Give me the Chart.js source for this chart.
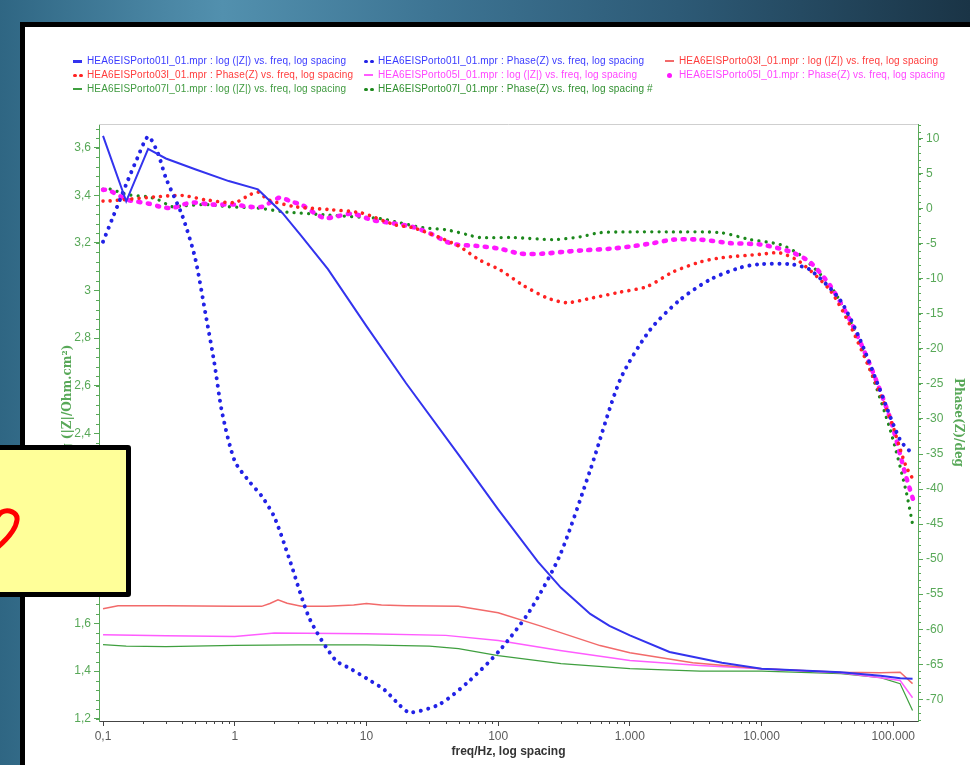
<!DOCTYPE html>
<html><head><meta charset="utf-8">
<script src="https://cdn.jsdelivr.net/npm/chart.js@4.4.1/dist/chart.umd.min.js"></script>
<style>
html,body{margin:0;padding:0;width:970px;height:765px;overflow:hidden;}
body{position:relative;background:linear-gradient(to right,#2f6683 0%,#4a86a4 17%,#5290ae 23%,#3d7493 45%,#2d5a76 70%,#1a3446 100%);}
#panel{position:absolute;left:20px;top:22px;width:960px;height:760px;background:#fff;border-left:5px solid #000;border-top:5px solid #000;}
#c{position:absolute;left:25px;top:27px;}
.lg{position:absolute;font:10px 'Liberation Sans',Arial,sans-serif;letter-spacing:0.15px;white-space:nowrap;height:14px;line-height:14px;}
.mk{display:inline-block;position:relative;width:10px;height:14px;vertical-align:top;margin-right:4px;}
.mk i{position:absolute;display:block;}
#note{position:absolute;left:-10px;top:445px;width:141px;height:152px;box-sizing:border-box;border:5px solid #000;border-radius:3px;background:#ffff99;}
#glyph{position:absolute;left:0;top:500px;}
</style></head>
<body>
<div id="panel"></div>
<canvas id="c" width="945" height="738"></canvas>
<div id="legend"></div>
<div id="note"></div>
<svg id="glyph" width="30" height="60"><path d="M-2 47 C 6 40, 16 29, 17 20 C 18 12, 8 9, 2 12 C -1 14, -3 17, -4 20" stroke="#ff0000" stroke-width="5" fill="none" stroke-linecap="round"/></svg>
<script>
// ---------- data ----------
const xTickValues = [0.1, 1, 10, 100, 1000, 10000, 100000];
const xTickLabels = ['0,1', '1', '10', '100', '1.000', '10.000', '100.000'];
const leftTickValues = [1.2, 1.4, 1.6, 1.8, 2, 2.2, 2.4, 2.6, 2.8, 3, 3.2, 3.4, 3.6];
const rightTickValues = [-70, -65, -60, -55, -50, -45, -40, -35, -30, -25, -20, -15, -10, -5, 0, 5, 10];

const legendLabels = [
  'HEA6EISPorto01I_01.mpr : log (|Z|) vs. freq, log spacing',
  'HEA6EISPorto01I_01.mpr : Phase(Z) vs. freq, log spacing',
  'HEA6EISPorto03I_01.mpr : log (|Z|) vs. freq, log spacing',
  'HEA6EISPorto03I_01.mpr : Phase(Z) vs. freq, log spacing',
  'HEA6EISPorto05I_01.mpr : log (|Z|) vs. freq, log spacing',
  'HEA6EISPorto05I_01.mpr : Phase(Z) vs. freq, log spacing',
  'HEA6EISPorto07I_01.mpr : log (|Z|) vs. freq, log spacing',
  'HEA6EISPorto07I_01.mpr : Phase(Z) vs. freq, log spacing #'
];

// sample 01 : log|Z|
const fZ01 = [0.1, 0.15, 0.22, 0.3, 0.5, 0.9, 1.5, 2.3, 3.2, 5.1, 10, 20, 50, 100, 200, 300, 500, 700, 1000, 2000, 5000, 10000, 40000, 80000, 113000, 140000];
const logZ01 = [3.65, 3.375, 3.595, 3.555, 3.51, 3.46, 3.425, 3.326, 3.23, 3.09, 2.85, 2.61, 2.31, 2.08, 1.86, 1.75, 1.64, 1.59, 1.55, 1.48, 1.435, 1.41, 1.395, 1.38, 1.37, 1.368];
// sample 01 : phase
const fP01 = [0.1, 0.12, 0.15, 0.18, 0.22, 0.26, 0.3, 0.4, 0.5, 0.6, 0.7, 0.8, 1.0, 1.3, 1.6, 2.0, 2.6, 3.7, 5.8, 7.5, 10.6, 13.8, 18, 21.4, 36, 61, 103, 175, 295, 500, 843, 1420, 2400, 4060, 6870, 9770, 16400, 23300, 39400, 56000, 79400, 112700, 140000];
const phase01 = [-4.7, -1, 3.5, 7, 10.3, 8, 4.4, -1, -7, -15, -22, -29, -36, -39, -41, -44, -50, -58.5, -64.4, -65.6, -67.3, -68.7, -70.9, -71.9, -70.7, -67.3, -63, -57.3, -49.4, -37.3, -24.4, -17.3, -13, -10.1, -8.4, -7.9, -7.9, -8.7, -13, -18.7, -25.9, -33, -35];

// sample 03 : log|Z|
const fZ03 = [0.1, 0.13, 0.3, 1.0, 1.6, 1.85, 2.13, 2.5, 3.2, 5, 8, 10, 13, 20, 50, 100, 208, 594, 1000, 3000, 10000, 40000, 80000, 112700, 140000];
const logZ03 = [1.662, 1.675, 1.675, 1.672, 1.672, 1.684, 1.70, 1.685, 1.672, 1.672, 1.678, 1.684, 1.678, 1.675, 1.672, 1.645, 1.59, 1.507, 1.477, 1.435, 1.41, 1.395, 1.393, 1.395, 1.347];
// sample 03 : phase
const fP03 = [0.1, 0.109, 0.248, 0.40, 0.595, 1.0, 1.3, 1.5, 1.79, 2.86, 5.1, 9.2, 16.5, 22.5, 36, 51, 72, 103, 154, 234, 332, 524, 840, 1350, 2130, 3410, 4860, 9770, 13800, 19600, 33000, 46900, 66700, 95000, 124000, 140000];
const phase03 = [1.1, 1.1, 1.7, 1.9, 1.3, 0.9, 2.0, 2.4, 1.3, 0.3, -0.1, -0.6, -2.3, -2.7, -4.1, -5.4, -7.3, -8.7, -10.9, -12.7, -13.4, -12.7, -11.9, -11.1, -9, -7.6, -7, -6.5, -6.3, -7.6, -11.6, -16.6, -23, -30, -36.6, -38.5];

// sample 05 : log|Z|
const fZ05 = [0.1, 0.3, 1, 2, 10, 40, 100, 295, 1000, 3400, 10000, 40000, 80000, 112700, 140000];
const logZ05 = [1.553, 1.548, 1.545, 1.56, 1.557, 1.55, 1.528, 1.486, 1.444, 1.423, 1.41, 1.393, 1.372, 1.36, 1.288];
// sample 05 : phase
const fP05 = [0.1, 0.109, 0.152, 0.184, 0.227, 0.271, 0.334, 0.405, 0.483, 0.67, 1.0, 1.27, 1.62, 2.2, 2.7, 3.2, 4.8, 7.8, 11, 15, 22.5, 32, 40.4, 48, 69, 103, 147, 220, 332, 470, 710, 1000, 1500, 2130, 3410, 5750, 9770, 16400, 23300, 33000, 46900, 66700, 95000, 124000, 142000];
const phase05 = [2.7, 2.7, 1.3, 1.0, 0.7, 0.3, 0.1, 0.6, 0.9, 0.6, 0.6, 0.3, 0.3, 1.6, 1.0, 0.6, -1.3, -0.7, -1.6, -2.0, -2.6, -3.7, -4.7, -5.1, -5.3, -5.7, -6.4, -6.4, -6.1, -5.9, -5.7, -5.4, -4.9, -4.4, -4.4, -4.9, -5.1, -6.1, -7.6, -10.9, -15.9, -22.3, -30, -38, -41.6];

// sample 07 : log|Z|
const fZ07 = [0.1, 0.15, 0.3, 1, 3, 10, 30, 50, 100, 300, 1000, 3400, 10000, 40000, 80000, 112700, 140000];
const logZ07 = [1.511, 1.505, 1.503, 1.508, 1.51, 1.51, 1.505, 1.494, 1.465, 1.431, 1.41, 1.40, 1.40, 1.389, 1.372, 1.347, 1.234];
// sample 07 : phase
const fP07 = [0.1, 0.113, 0.155, 0.22, 0.262, 0.334, 0.398, 0.595, 0.89, 1.5, 2.29, 5.1, 12.6, 18, 26.8, 40.4, 58.6, 72, 129, 264, 420, 596, 1000, 2130, 4860, 8200, 13800, 19600, 33000, 46900, 66700, 95000, 124000, 142000];
const phase07 = [2.8, 2.8, 2.0, 1.7, 1.3, 0.3, 0.4, 0.6, 0.3, 0.1, -0.4, -0.9, -1.4, -2.0, -2.7, -3.0, -3.7, -4.1, -4.1, -4.4, -4.0, -3.4, -3.3, -3.3, -3.4, -4.4, -5.1, -6.6, -10.9, -15.9, -23, -31.6, -40, -45.6];

// ---------- chart ----------
const GREEN = '#58a858';
const xMin = 0.0932, xMax = 154000;
const pts = (xs, ys) => xs.map((x, i) => ({x: x, y: ys[i]}));

Chart.defaults.font.family = "'Liberation Sans', Arial, sans-serif";

const solid = (label, xs, ys, color, w, legendText) => ({
  label, data: pts(xs, ys), yAxisID: 'y', borderColor: color, borderWidth: w,
  pointRadius: 0, tension: 0, fill: false, legendMarker: 'line', legendText
});
const dotted = (label, xs, ys, color, w, dash, legendText, marker) => ({
  label, data: pts(xs, ys), yAxisID: 'y1', borderColor: color, borderWidth: w,
  borderDash: dash, borderCapStyle: 'round', borderJoinStyle: 'round',
  pointRadius: 0, tension: 0.25, fill: false, legendMarker: marker || 'dots', legendText
});

const datasets = [
  solid(legendLabels[0], fZ01, logZ01, '#3333ee', 2, '#3a3aff'),
  dotted(legendLabels[1], fP01, phase01, '#2222e6', 4, [0.01, 7.5], '#3a3aff'),
  solid(legendLabels[2], fZ03, logZ03, '#f26a6a', 1.5, '#ff3c3c'),
  dotted(legendLabels[3], fP03, phase03, '#ff2222', 3.6, [0.01, 7.2], '#ff3c3c'),
  solid(legendLabels[4], fZ05, logZ05, '#ff5cff', 1.5, '#ff44ff'),
  dotted(legendLabels[5], fP05, phase05, '#ff18ff', 4.6, [2, 7.5], '#ff44ff', 'dot'),
  solid(legendLabels[6], fZ07, logZ07, '#3f9f3f', 1.2, '#3f9a3f'),
  dotted(legendLabels[7], fP07, phase07, '#1c881c', 3.3, [0.01, 7.2], '#2f8f2f')
];

const frameAndMinorTicks = {
  id: 'frameAndMinorTicks',
  afterDraw(chart) {
    const ctx = chart.ctx;
    const {left, right, top, bottom} = chart.chartArea;
    const yL = chart.scales.y, yR = chart.scales.y1, xs = chart.scales.x;
    ctx.save();
    ctx.lineWidth = 1;
    ctx.strokeStyle = '#cfcfcf';
    ctx.beginPath(); ctx.moveTo(left, top + 0.5); ctx.lineTo(right, top + 0.5); ctx.stroke();
    ctx.strokeStyle = GREEN;
    ctx.beginPath();
    for (let i = 0; i <= 63; i++) {
      const p = Math.round(yL.getPixelForValue(1.2 + i * 0.04)) + 0.5;
      if (p < top || p > bottom) continue;
      ctx.moveTo(left - 3, p); ctx.lineTo(left, p);
    }
    for (let v = -73; v <= 12; v++) {
      const p = Math.round(yR.getPixelForValue(v)) + 0.5;
      if (p < top || p > bottom) continue;
      ctx.moveTo(right, p); ctx.lineTo(right + 3, p);
    }
    ctx.stroke();
    ctx.strokeStyle = '#444';
    ctx.beginPath();
    for (let d = -2; d <= 5; d++) {
      for (let m = 2; m <= 9; m++) {
        const f = m * Math.pow(10, d);
        if (f < xMin || f > xMax) continue;
        const p = Math.round(xs.getPixelForValue(f)) + 0.5;
        ctx.moveTo(p, bottom); ctx.lineTo(p, bottom + 3);
      }
    }
    ctx.stroke();
    ctx.restore();
  }
};

const chart = new Chart(document.getElementById('c'), {
  type: 'line',
  data: {datasets},
  options: {
    responsive: false, animation: false, events: [],
    layout: {padding: {top: 97, left: 0, right: 0, bottom: 0}},
    plugins: {legend: {display: false}, tooltip: {enabled: false}},
    scales: {
      x: {
        type: 'logarithmic', position: 'bottom', min: xMin, max: xMax,
        afterBuildTicks: s => { s.ticks = xTickValues.map(v => ({value: v})); },
        afterFit: s => { s.height = 44; },
        ticks: {autoSkip: false, maxRotation: 0, color: '#5a5a5a', font: {size: 12}, padding: 3,
                callback: (v, i) => xTickLabels[i]},
        grid: {drawOnChartArea: false, drawTicks: true, tickLength: 5, tickColor: '#444'},
        border: {display: true, color: '#444'},
        title: {display: true, text: 'freq/Hz, log spacing', color: '#333',
                font: {size: 12, weight: 'bold'}, padding: {top: 0, bottom: 6}}
      },
      y: {
        type: 'linear', position: 'left', min: 1.19, max: 3.7,
        afterBuildTicks: s => { s.ticks = leftTickValues.map(v => ({value: v})); },
        afterFit: s => { s.width = 74; },
        ticks: {color: GREEN, font: {size: 12}, padding: 3,
                callback: v => String(v).replace('.', ',')},
        grid: {drawOnChartArea: false, drawTicks: true, tickLength: 5, tickColor: GREEN},
        border: {display: true, color: GREEN},
        title: {display: true, text: '\u2003\u2003\u2003log (|Z|/Ohm.cm²)', color: GREEN,
                font: {family: "'DejaVu Serif', serif", size: 12, weight: 'bold'}, padding: {top: 36, bottom: 0}}
      },
      y1: {
        type: 'linear', position: 'right', min: -73.1, max: 12.1,
        afterBuildTicks: s => { s.ticks = rightTickValues.map(v => ({value: v})); },
        afterFit: s => { s.width = 52; },
        ticks: {color: GREEN, font: {size: 12}, padding: 3},
        grid: {drawOnChartArea: false, drawTicks: true, tickLength: 5, tickColor: GREEN},
        border: {display: true, color: GREEN},
        title: {display: true, text: 'Phase(Z)/deg', color: GREEN,
                font: {family: "'DejaVu Serif', serif", size: 12, weight: 'bold'}, padding: {top: 5, bottom: 0}}
      }
    }
  },
  plugins: [frameAndMinorTicks]
});

// ---------- HTML legend built from the chart's datasets ----------
const legendCols = [73, 364, 665];
const legendRows = [54, 68, 82];
const legendBox = document.getElementById('legend');
chart.data.datasets.forEach((ds, i) => {
  const div = document.createElement('div');
  div.className = 'lg';
  div.style.left = legendCols[i % 3] + 'px';
  div.style.top = legendRows[Math.floor(i / 3)] + 'px';
  div.style.color = ds.legendText;
  const mk = document.createElement('span');
  mk.className = 'mk';
  if (ds.legendMarker === 'line') {
    const h = ds.borderWidth >= 2 ? 3 : 2;
    mk.innerHTML = `<i style="left:0;top:${7 - h / 2}px;width:9px;height:${h}px;background:${ds.borderColor}"></i>`;
  } else if (ds.legendMarker === 'dots') {
    mk.innerHTML = `<i style="left:0;top:5.5px;width:3.5px;height:3.5px;border-radius:50%;background:${ds.borderColor}"></i>` +
                   `<i style="left:6px;top:5.5px;width:3.5px;height:3.5px;border-radius:50%;background:${ds.borderColor}"></i>`;
  } else {
    mk.innerHTML = `<i style="left:2px;top:4.5px;width:5px;height:5px;border-radius:50%;background:${ds.borderColor}"></i>`;
  }
  const t = document.createElement('span');
  t.textContent = ds.label;
  div.appendChild(mk);
  div.appendChild(t);
  legendBox.appendChild(div);
});
</script>
</body></html>
